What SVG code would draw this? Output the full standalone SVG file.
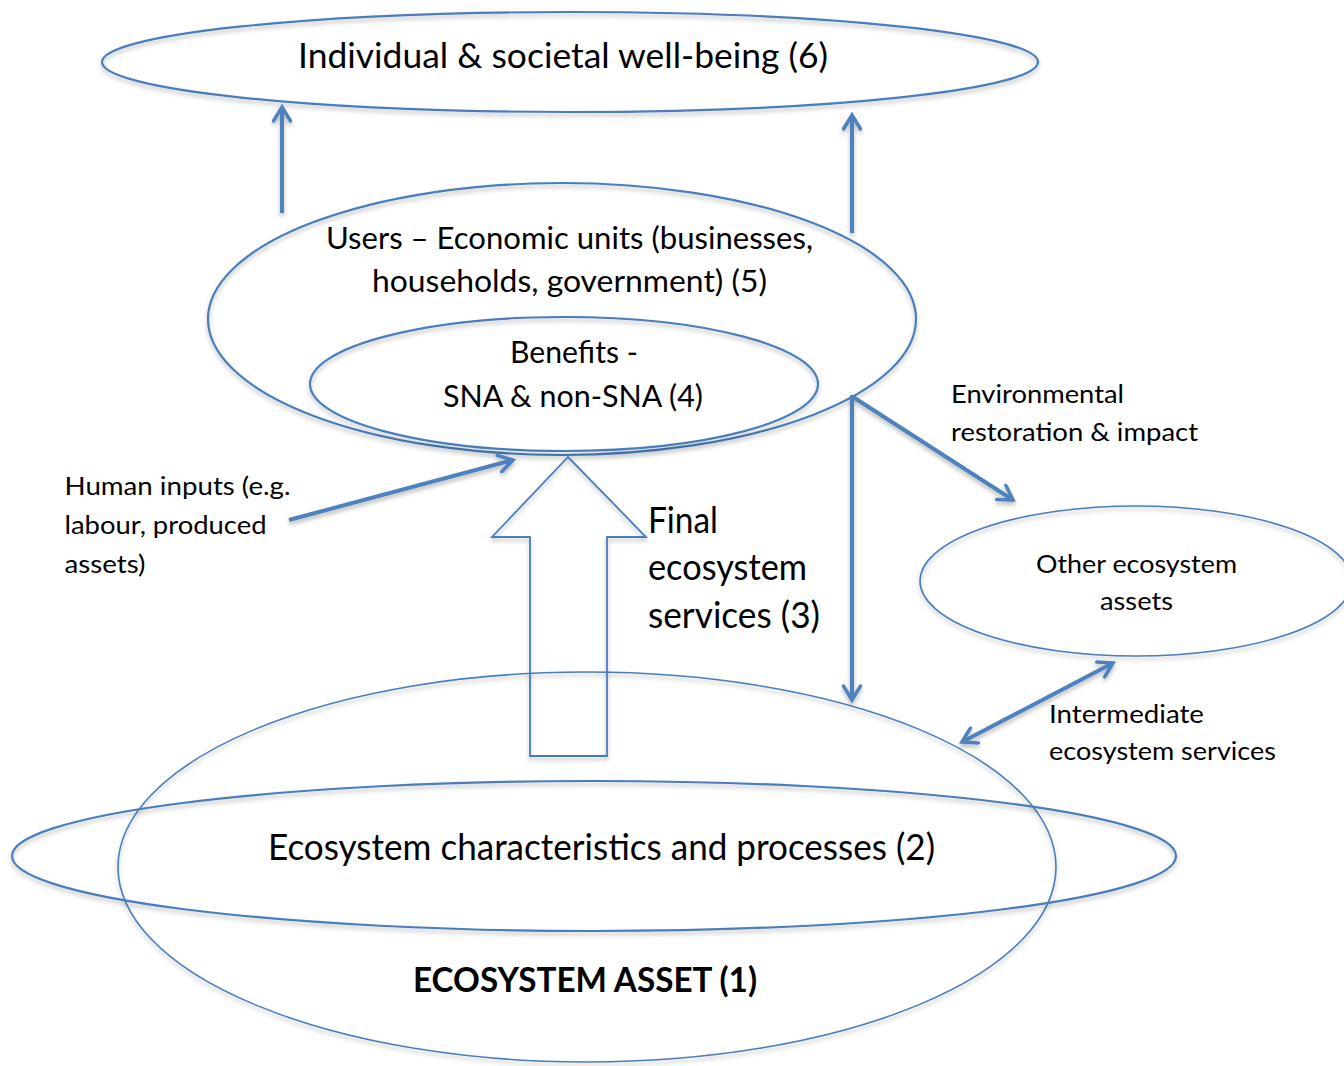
<svg xmlns="http://www.w3.org/2000/svg" width="1344" height="1066" viewBox="0 0 1344 1066">
<defs>
<filter id="sh" x="-10%" y="-10%" width="120%" height="130%">
<feDropShadow dx="0" dy="3" stdDeviation="2" flood-color="#000" flood-opacity="0.28"/>
</filter>
<filter id="shu" filterUnits="userSpaceOnUse" x="0" y="0" width="1344" height="1066">
<feDropShadow dx="0" dy="3" stdDeviation="2" flood-color="#000" flood-opacity="0.28"/>
</filter>
<marker id="ah" viewBox="0 0 20 20" markerWidth="20" markerHeight="20" refX="17" refY="10" orient="auto-start-reverse" markerUnits="userSpaceOnUse">
<path d="M3,1.5 L17,10 L3,18.5" fill="none" stroke="#4F81BD" stroke-width="3.5" stroke-linecap="round" stroke-linejoin="miter"/>
</marker>
</defs>
<style>
.el{fill:none;stroke:#4A7EBB;stroke-width:2.2}
.thin{stroke-width:1.6}
.t{font-family:Lato,"Open Sans","Liberation Sans",sans-serif;fill:#000}
.c{text-anchor:middle}
.con{fill:none;stroke:#4F81BD;stroke-width:4}
</style>
<rect width="1344" height="1066" fill="#fff"/>

<g id="wellbeing">
<ellipse class="el" cx="570" cy="62" rx="468" ry="50" filter="url(#sh)"/>
<text class="t c" x="563" y="68" font-size="34" textLength="530" lengthAdjust="spacingAndGlyphs">Individual &amp; societal well-being (6)</text>
</g>

<g id="users">
<ellipse class="el" cx="562" cy="319" rx="354" ry="136" filter="url(#sh)"/>
<text class="t c" x="569.5" y="249" font-size="30" textLength="487" lengthAdjust="spacingAndGlyphs">Users – Economic units (businesses,</text>
<text class="t c" x="569.5" y="292" font-size="30" textLength="395" lengthAdjust="spacingAndGlyphs">households, government) (5)</text>
</g>

<g id="benefits">
<ellipse class="el" cx="564" cy="384" rx="254" ry="67" filter="url(#sh)"/>
<text class="t c" x="574" y="363" font-size="30" textLength="128" lengthAdjust="spacingAndGlyphs">Benefits -</text>
<text class="t c" x="573" y="407" font-size="30" textLength="260" lengthAdjust="spacingAndGlyphs">SNA &amp; non-SNA (4)</text>
</g>

<g id="other-assets">
<ellipse class="el thin" cx="1136" cy="581" rx="216" ry="75" filter="url(#sh)"/>
<text class="t c" x="1136.5" y="573" font-size="25" textLength="201" lengthAdjust="spacingAndGlyphs">Other ecosystem</text>
<text class="t c" x="1136.5" y="610" font-size="25" textLength="73" lengthAdjust="spacingAndGlyphs">assets</text>
</g>

<g id="ecosystem-asset">
<ellipse class="el thin" cx="587" cy="867" rx="469" ry="195" filter="url(#sh)"/>
<text class="t c" x="585" y="992" font-size="35" font-weight="bold" textLength="344" lengthAdjust="spacingAndGlyphs">ECOSYSTEM ASSET (1)</text>
</g>

<g id="characteristics">
<ellipse class="el" cx="594" cy="856" rx="582" ry="75" filter="url(#sh)"/>
<text class="t c" x="601.5" y="860" font-size="36" textLength="667" lengthAdjust="spacingAndGlyphs">Ecosystem characteristics and processes (2)</text>
</g>

<g id="final-services">
<polygon points="568,457 646,537 607,537 607,756 530,756 530,537 492,537" fill="none" stroke="#4A7EBB" stroke-width="1.8" stroke-linejoin="miter" filter="url(#sh)"/>
<text class="t" x="648" y="533" font-size="36" textLength="70" lengthAdjust="spacingAndGlyphs">Final</text>
<text class="t" x="648" y="580" font-size="36" textLength="159" lengthAdjust="spacingAndGlyphs">ecosystem</text>
<text class="t" x="648" y="628" font-size="36" textLength="172" lengthAdjust="spacingAndGlyphs">services (3)</text>
</g>

<g id="connectors" filter="url(#shu)">
<line class="con" x1="282" y1="213" x2="282" y2="107" marker-end="url(#ah)"/>
<line class="con" x1="852" y1="233" x2="852" y2="115" marker-end="url(#ah)"/>
<line class="con" x1="852" y1="395" x2="852" y2="700" marker-end="url(#ah)"/>
<line class="con" x1="853" y1="397" x2="1013" y2="500" marker-end="url(#ah)"/>
<line class="con" x1="289" y1="520" x2="513" y2="460" marker-end="url(#ah)"/>
<line class="con" x1="962" y1="742" x2="1113" y2="663" marker-start="url(#ah)" marker-end="url(#ah)"/>
</g>

<g id="labels">
<text class="t" x="951" y="403" font-size="25" textLength="173" lengthAdjust="spacingAndGlyphs">Environmental</text>
<text class="t" x="951" y="441" font-size="25" textLength="247" lengthAdjust="spacingAndGlyphs">restoration &amp; impact</text>
<text class="t" x="64.5" y="495" font-size="25" textLength="226" lengthAdjust="spacingAndGlyphs">Human inputs (e.g.</text>
<text class="t" x="64.5" y="534" font-size="25" textLength="202" lengthAdjust="spacingAndGlyphs">labour, produced</text>
<text class="t" x="64.5" y="573" font-size="25" textLength="81" lengthAdjust="spacingAndGlyphs">assets)</text>
<text class="t" x="1049" y="723" font-size="25" textLength="155" lengthAdjust="spacingAndGlyphs">Intermediate</text>
<text class="t" x="1049" y="760" font-size="25" textLength="227" lengthAdjust="spacingAndGlyphs">ecosystem services</text>
</g>
</svg>
